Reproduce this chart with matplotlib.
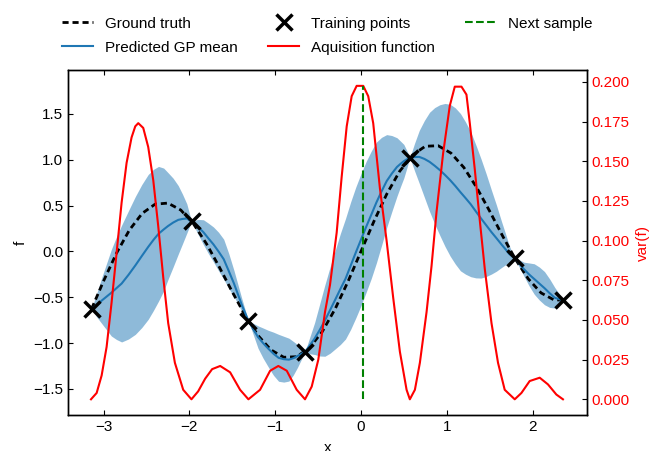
import matplotlib
matplotlib.use("Agg")
import matplotlib.pyplot as plt
from matplotlib.ticker import MultipleLocator

plt.rcParams['font.family'] = ['Liberation Sans', 'DejaVu Sans']
plt.rcParams['font.size'] = 11

# ground truth curve
x_true = [-3.14, -3.0, -2.85, -2.7, -2.55, -2.4, -2.25, -2.1, -1.95, -1.8, -1.65, -1.5,
          -1.35, -1.2, -1.05, -0.9, -0.75, -0.6, -0.45, -0.3, -0.15, 0.0, 0.15, 0.3,
          0.45, 0.6, 0.75, 0.9, 1.05, 1.2, 1.35, 1.5, 1.65, 1.8, 1.95, 2.1, 2.25, 2.35]
f_true = [-0.625, -0.321, -0.019, 0.233, 0.416, 0.516, 0.528, 0.452, 0.298, 0.083, -0.172, -0.441,
          -0.697, -0.916, -1.073, -1.154, -1.148, -1.052, -0.873, -0.625, -0.326, 0.0, 0.326, 0.625,
          0.873, 1.052, 1.148, 1.154, 1.073, 0.916, 0.697, 0.441, 0.172, -0.083, -0.298, -0.452, -0.528, -0.530]

# training points
x_train = [-3.14, -1.975, -1.312, -0.652, 0.57, 1.793, 2.35]
f_train = [-0.625, 0.329, -0.756, -1.095, 1.023, -0.072, -0.530]

# GP mean and half width of the shaded band
x_gp = [-3.14, -3.08, -3.02, -2.91, -2.85, -2.79, -2.71, -2.63, -2.555, -2.48, -2.42, -2.36,
        -2.30, -2.25, -2.19, -2.13, -2.08, -2.03, -1.975,
        -1.90, -1.836, -1.78, -1.72, -1.66, -1.60, -1.54, -1.48, -1.39, -1.312,
        -1.20, -1.14, -1.08, -1.02, -0.96, -0.90, -0.84, -0.79, -0.74, -0.652,
        -0.60, -0.54, -0.48, -0.42, -0.36, -0.30, -0.24, -0.18, -0.12, -0.06, 0.0,
        0.06, 0.12, 0.18, 0.24, 0.30, 0.36, 0.42, 0.46, 0.50, 0.535, 0.57,
        0.625, 0.68, 0.74, 0.80, 0.86, 0.92, 0.98, 1.04, 1.10, 1.16, 1.22, 1.28,
        1.34, 1.40, 1.46, 1.52, 1.58, 1.64, 1.685, 1.73, 1.76, 1.793,
        1.845, 1.90, 1.96, 2.02, 2.08, 2.14, 2.20, 2.26, 2.31, 2.35]
gp_mean = [-0.625, -0.585, -0.534, -0.45, -0.40, -0.35, -0.255, -0.152, -0.05, 0.05, 0.125, 0.193,
           0.24, 0.277, 0.315, 0.345, 0.355, 0.36, 0.329,
           0.27, 0.21, 0.145, 0.078, 0.0, -0.084, -0.215, -0.35, -0.58, -0.756,
           -0.933, -1.0, -1.06, -1.115, -1.16, -1.175, -1.18, -1.165, -1.14, -1.095,
           -1.03, -0.95, -0.855, -0.753, -0.64, -0.526, -0.41, -0.298, -0.155, -0.011, 0.128,
           0.267, 0.40, 0.534, 0.655, 0.768, 0.85, 0.922, 0.955, 0.985, 1.005, 1.023,
           1.03, 1.032, 1.01, 0.978, 0.935, 0.888, 0.835, 0.778, 0.715, 0.647, 0.582, 0.515,
           0.437, 0.36, 0.287, 0.213, 0.145, 0.075, 0.025, -0.028, -0.05, -0.072,
           -0.13, -0.193, -0.25, -0.30, -0.35, -0.40, -0.455, -0.505, -0.52, -0.530]
gp_band = [0.0, 0.13, 0.254, 0.472, 0.56, 0.637, 0.70, 0.752, 0.78, 0.79, 0.77, 0.735,
           0.67, 0.584, 0.485, 0.374, 0.27, 0.16, 0.0,
           0.08, 0.136, 0.165, 0.19, 0.21, 0.218, 0.19, 0.142, 0.07, 0.0,
           0.122, 0.165, 0.2, 0.235, 0.256, 0.25, 0.234, 0.185, 0.125, 0.0,
           0.085, 0.174, 0.285, 0.39, 0.47, 0.537, 0.605, 0.657, 0.695, 0.714, 0.72,
           0.714, 0.695, 0.659, 0.59, 0.507, 0.415, 0.319, 0.25, 0.183, 0.095, 0.0,
           0.15, 0.289, 0.42, 0.541, 0.635, 0.713, 0.78, 0.828, 0.852, 0.858, 0.83, 0.79,
           0.725, 0.65, 0.56, 0.46, 0.36, 0.249, 0.17, 0.09, 0.045, 0.0,
           0.04, 0.076, 0.125, 0.166, 0.18, 0.181, 0.155, 0.112, 0.06, 0.0]

# acquisition function (variance)
x_acq = [-3.147, -3.081, -3.023, -2.965, -2.907, -2.849, -2.790, -2.732, -2.674, -2.631, -2.596,
         -2.538, -2.480, -2.421, -2.363, -2.305, -2.247, -2.169, -2.072, -1.976, -1.898, -1.816,
         -1.735, -1.641, -1.525, -1.409, -1.312, -1.176, -1.059, -0.963, -0.865, -0.749, -0.652,
         -0.574, -0.497, -0.419, -0.361, -0.283, -0.225, -0.166, -0.108, -0.050, 0.027, 0.085,
         0.143, 0.221, 0.299, 0.376, 0.454, 0.532, 0.570, 0.629, 0.687, 0.765, 0.823, 0.881,
         0.958, 1.036, 1.094, 1.172, 1.230, 1.269, 1.327, 1.385, 1.444, 1.522, 1.598, 1.676,
         1.793, 1.871, 1.967, 2.084, 2.180, 2.278, 2.355]
acq = [0.0, 0.004, 0.015, 0.033, 0.061, 0.092, 0.124, 0.149, 0.165, 0.172, 0.174,
       0.171, 0.159, 0.138, 0.109, 0.077, 0.048, 0.023, 0.006, 0.0, 0.005, 0.013,
       0.019, 0.021, 0.017, 0.006, 0.0, 0.006, 0.018, 0.021, 0.018, 0.006, 0.0,
       0.008, 0.025, 0.055, 0.072, 0.105, 0.140, 0.172, 0.191, 0.1975, 0.1975, 0.191,
       0.174, 0.133, 0.100, 0.064, 0.030, 0.006, 0.0, 0.006, 0.023, 0.055, 0.084, 0.118,
       0.155, 0.185, 0.197, 0.197, 0.192, 0.174, 0.145, 0.113, 0.082, 0.048, 0.023, 0.006,
       0.0, 0.004, 0.0115, 0.0136, 0.0094, 0.003, 0.0]

x_next = 0.02

fig = plt.figure(figsize=(6.59, 4.51), dpi=100)
ax = fig.add_axes([0.1032, 0.0798, 0.7875, 0.765])

upper = [m + b for m, b in zip(gp_mean, gp_band)]
lower = [m - b for m, b in zip(gp_mean, gp_band)]
ax.fill_between(x_gp, lower, upper, color='C0', alpha=0.5, lw=0)
h_true, = ax.plot(x_true, f_true, 'k--', lw=2, dashes=(2.2, 1.4), label='Ground truth')
h_mean, = ax.plot(x_gp, gp_mean, color='C0', lw=1.5, label='Predicted GP mean')
h_train, = ax.plot(x_train, f_train, 'kx', ms=12, mew=2.5, label='Training points')
ax.set_xlim(-3.415, 2.635)
ax.set_ylim(-1.784, 1.98)
ax.set_xlabel('x', labelpad=5)
ax.set_ylabel('f')
ax.xaxis.set_major_locator(MultipleLocator(1))
ax.yaxis.set_major_locator(MultipleLocator(0.5))
ax.tick_params(direction='in', top=True, labelsize=11)

ax2 = ax.twinx()
h_acq, = ax2.plot(x_acq, acq, 'r-', lw=1.5, label='Aquisition function')
h_next = ax2.vlines(x_next, 0, max(acq), colors='g', linestyles='--', lw=1.5,
                    label='Next sample')
ax2.set_ylim(-0.0099, 0.2075)
ax2.yaxis.set_major_locator(MultipleLocator(0.025))
ax2.tick_params(axis='y', direction='in', labelcolor='red', labelsize=11)
ax2.set_ylabel('var(f)', color='red')

for a in (ax, ax2):
    for s in a.spines.values():
        s.set_linewidth(1.0)

ax.legend([h_true, h_mean, h_train, h_acq, h_next],
          ['Ground truth', 'Predicted GP mean', 'Training points',
           'Aquisition function', 'Next sample'],
          loc='lower center', bbox_to_anchor=(0.5, 1.005), ncol=3, frameon=False,
          fontsize=11, labelspacing=0.65)

fig.savefig('out.png', dpi=100)
